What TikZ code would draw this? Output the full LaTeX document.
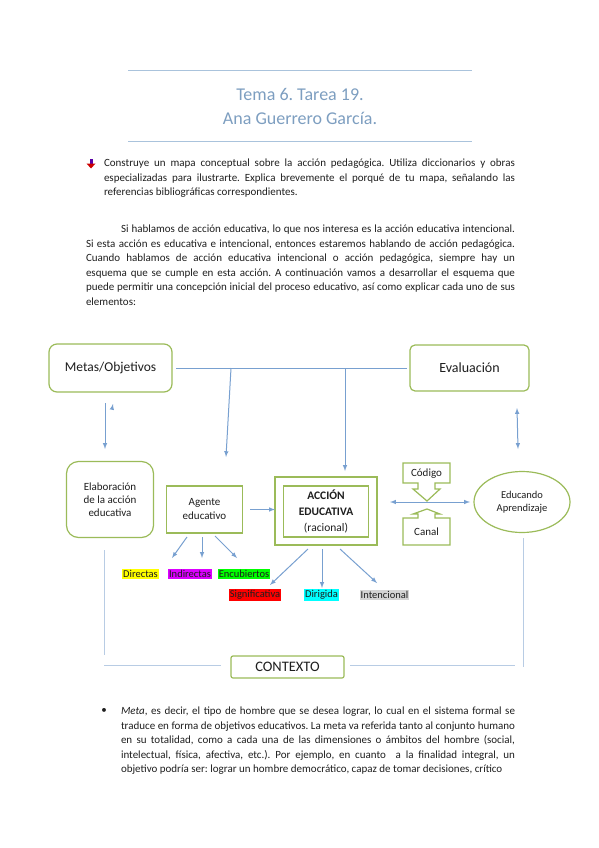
\documentclass[tikz,border=0pt]{standalone}
\usepackage{fontspec}
\setmainfont{Carlito}
\usetikzlibrary{shapes.geometric}
\definecolor{colorbox}{RGB}{155,187,89}
\definecolor{colorarrow}{RGB}{120,160,208}
\definecolor{colorctx}{RGB}{184,204,228}
\definecolor{colortitle}{RGB}{125,158,192}
\definecolor{colorrule}{RGB}{170,195,220}
\definecolor{colortext}{RGB}{30,30,30}
\definecolor{colortag1}{RGB}{255,255,0}
\definecolor{colortag2}{RGB}{220,0,255}
\definecolor{colortag3}{RGB}{0,255,0}
\definecolor{colortag4}{RGB}{255,0,0}
\definecolor{colortag5}{RGB}{0,255,255}
\definecolor{colortag6}{RGB}{212,212,212}
\frenchspacing
\begin{document}
\begin{tikzpicture}[x=1pt,y=-1pt,
  every node/.style={inner sep=0pt, outer sep=0pt, text=colortext},
  greenbox/.style={draw=colorbox, line width=1.2pt, fill=white, align=center},
  boxline/.style={draw=colorbox, line width=1.2pt, fill=white},
  link/.style={draw=colorarrow, line width=1pt},
  arrow/.style={link, -latex},
  ctxline/.style={draw=colorctx, line width=1pt},
  body/.style={anchor=base west, align=justify, font=\fontsize{11}{14.5}\selectfont},
  tag/.style={inner sep=1pt, font=\fontsize{10.5}{11}\selectfont}]

\useasboundingbox (0,0) rectangle (599,848);

% cabecera
\draw[colorrule, line width=1pt] (128,71) -- (472,71);
\node[font=\fontsize{18}{24}\selectfont, text=colortitle, align=center] (title) at (300,106) {Tema 6. Tarea 19.\\Ana Guerrero García.};
\draw[colorrule, line width=1pt] (128,141) -- (472,141);

% enunciado
\fill[violet!70!blue] (89.5,159) rectangle (92.5,163.5);
\fill[red!80!black] (86.5,163.5) -- (95.5,163.5) -- (91,168.5) -- cycle;
\node[body, text width=411pt] (enunciado) at (104,166.5) {Construye un mapa conceptual sobre la acción pedagógica. Utiliza diccionarios y obras\linebreak especializadas para ilustrarte. Explica brevemente el porqué de tu mapa, señalando las\linebreak referencias bibliográficas correspondientes.};

\node[body, text width=429pt] (intro) at (86,232.5) {\hspace*{35pt}Si hablamos de acción educativa, lo que nos interesa es la acción educativa intencional.\linebreak Si esta acción es educativa e intencional, entonces estaremos hablando de acción pedagógica.\linebreak Cuando hablamos de acción educativa intencional o acción pedagógica, siempre hay un\linebreak esquema que se cumple en esta acción. A continuación vamos a desarrollar el esquema que\linebreak puede permitir una concepción inicial del proceso educativo, así como explicar cada uno de sus\linebreak elementos:};

% mapa
\node[greenbox, minimum width=123pt, minimum height=48pt, rounded corners=8pt, font=\fontsize{13.5}{15}\selectfont] (metas) at (110.5,368) {Metas/Objetivos};
\node[greenbox, minimum width=119pt, minimum height=46pt, rounded corners=5pt, font=\fontsize{14}{15}\selectfont] (evaluacion) at (469.5,368) {Evaluación};
\node[greenbox, minimum width=87pt, minimum height=76pt, rounded corners=12pt, font=\fontsize{11}{13}\selectfont] (elaboracion) at (110,499.5) {Elaboración\\de la acción\\educativa};
\node[greenbox, minimum width=76pt, minimum height=47pt, font=\fontsize{11}{14}\selectfont] (agente) at (204.5,509.5) {Agente\\educativo};
\node[greenbox, minimum width=102pt, minimum height=68pt] (accionout) at (326,511) {};
\node[greenbox, minimum width=85pt, minimum height=51pt, font=\fontsize{11.5}{16}\selectfont] (accion) at (326,511.5) {\textbf{ACCIÓN}\\\textbf{EDUCATIVA}\\(racional)};

\draw[boxline] (403,463) -- (450,463) -- (450,483) -- (435,483) -- (435,489) -- (440,489) -- (427,501) -- (413,489) -- (418,489) -- (418,483) -- (403,483) -- cycle;
\node[font=\fontsize{11}{12}\selectfont] (codigo) at (426.5,473.5) {Código};
\draw[boxline] (403,545) -- (450,545) -- (450,518) -- (435,518) -- (435,514) -- (440,514) -- (427,509) -- (413,514) -- (418,514) -- (418,518) -- (403,518) -- cycle;
\node[font=\fontsize{11}{12}\selectfont] (canal) at (426.5,532) {Canal};

\node[greenbox, ellipse, minimum width=96pt, minimum height=61pt, font=\fontsize{10.5}{13}\selectfont] (educando) at (522,502) {Educando\\Aprendizaje};
\node[greenbox, minimum width=113pt, minimum height=22pt, rounded corners=2pt, font=\fontsize{14.5}{15}\selectfont] (contexto) at (287.5,667) {CONTEXTO};

\node[tag, fill=colortag1] (directas) at (140.5,574) {Directas};
\node[tag, fill=colortag2] (indirectas) at (190,574) {Indirectas};
\node[tag, fill=colortag3] (encubiertos) at (244,574) {Encubiertos};
\node[tag, fill=colortag4] (significativa) at (255,595) {Significativa};
\node[tag, fill=colortag5] (dirigida) at (321.5,595) {Dirigida};
\node[tag, fill=colortag6] (intencional) at (384.5,595) {Intencional};

% conectores
\coordinate (j1) at (231,368);
\coordinate (j1e) at (226,457);
\coordinate (j2) at (345,368);
\coordinate (m1) at (105,403);
\coordinate (m1e) at (105,449);
\coordinate (m2) at (112,409);
\coordinate (m2e) at (113,404);
\coordinate (e1) at (517,408);
\coordinate (e1e) at (518,449);
\draw[link, shorten <=4pt, shorten >=3pt] (metas.east) -- (evaluacion.west);
\draw[arrow] (j1) -- (j1e);
\draw[arrow, shorten >=6pt] (j2) -- (j2 |- accionout.north);
\draw[arrow] (m1) -- (m1e);
\draw[arrow] (m2) -- (m2e);
\draw[link, latex-latex] (e1) -- (e1e);
\draw[arrow, shorten <=7.5pt] (agente.east) -- (agente.east -| accionout.west);
\draw[link, latex-latex, shorten <=13pt, shorten >=4pt] (accionout.east |- educando.west) -- (educando.west);

\coordinate (a1) at (187,537);
\coordinate (a1e) at (172,558);
\coordinate (a2) at (202,537);
\coordinate (a2e) at (202,558);
\coordinate (a3) at (215,536);
\coordinate (a3e) at (237,558);
\draw[arrow] (a1) -- (a1e);
\draw[arrow] (a2) -- (a2e);
\draw[arrow] (a3) -- (a3e);

\coordinate (c1) at (308,549);
\coordinate (c1e) at (270,585);
\coordinate (c2) at (322,549);
\coordinate (c2e) at (322,588);
\coordinate (c3) at (340,549);
\coordinate (c3e) at (377,583);
\draw[arrow] (c1) -- (c1e);
\draw[arrow] (c2) -- (c2e);
\draw[arrow] (c3) -- (c3e);

% contexto
\coordinate (k1) at (104,550);
\coordinate (k1e) at (104,655);
\coordinate (k2) at (104,665);
\coordinate (k3e) at (515,665);
\coordinate (k4) at (523,538);
\coordinate (k4e) at (523,667);
\draw[ctxline] (k1) -- (k1e);
\draw[ctxline, shorten >=10pt] (k2) -- (k2 -| contexto.west);
\draw[ctxline, shorten <=6pt] (k3e -| contexto.east) -- (k3e);
\draw[ctxline] (k4) -- (k4e);

% explicacion
\node[font=\fontsize{11}{14.5}\selectfont] (punto) at (104,710.5) {•};
\node[body, text width=394pt] (meta) at (121,714.5) {\parfillskip=0pt \textit{Meta}, es decir, el tipo de hombre que se desea lograr, lo cual en el sistema formal se\linebreak traduce en forma de objetivos educativos. La meta va referida tanto al conjunto humano\linebreak en su totalidad, como a cada una de las dimensiones o ámbitos del hombre (social,\linebreak intelectual, física, afectiva, etc.). Por ejemplo, en cuanto \ a la finalidad integral, un\linebreak objetivo podría ser: lograr un hombre democrático, capaz de tomar decisiones, crítico};

\end{tikzpicture}
\end{document}
